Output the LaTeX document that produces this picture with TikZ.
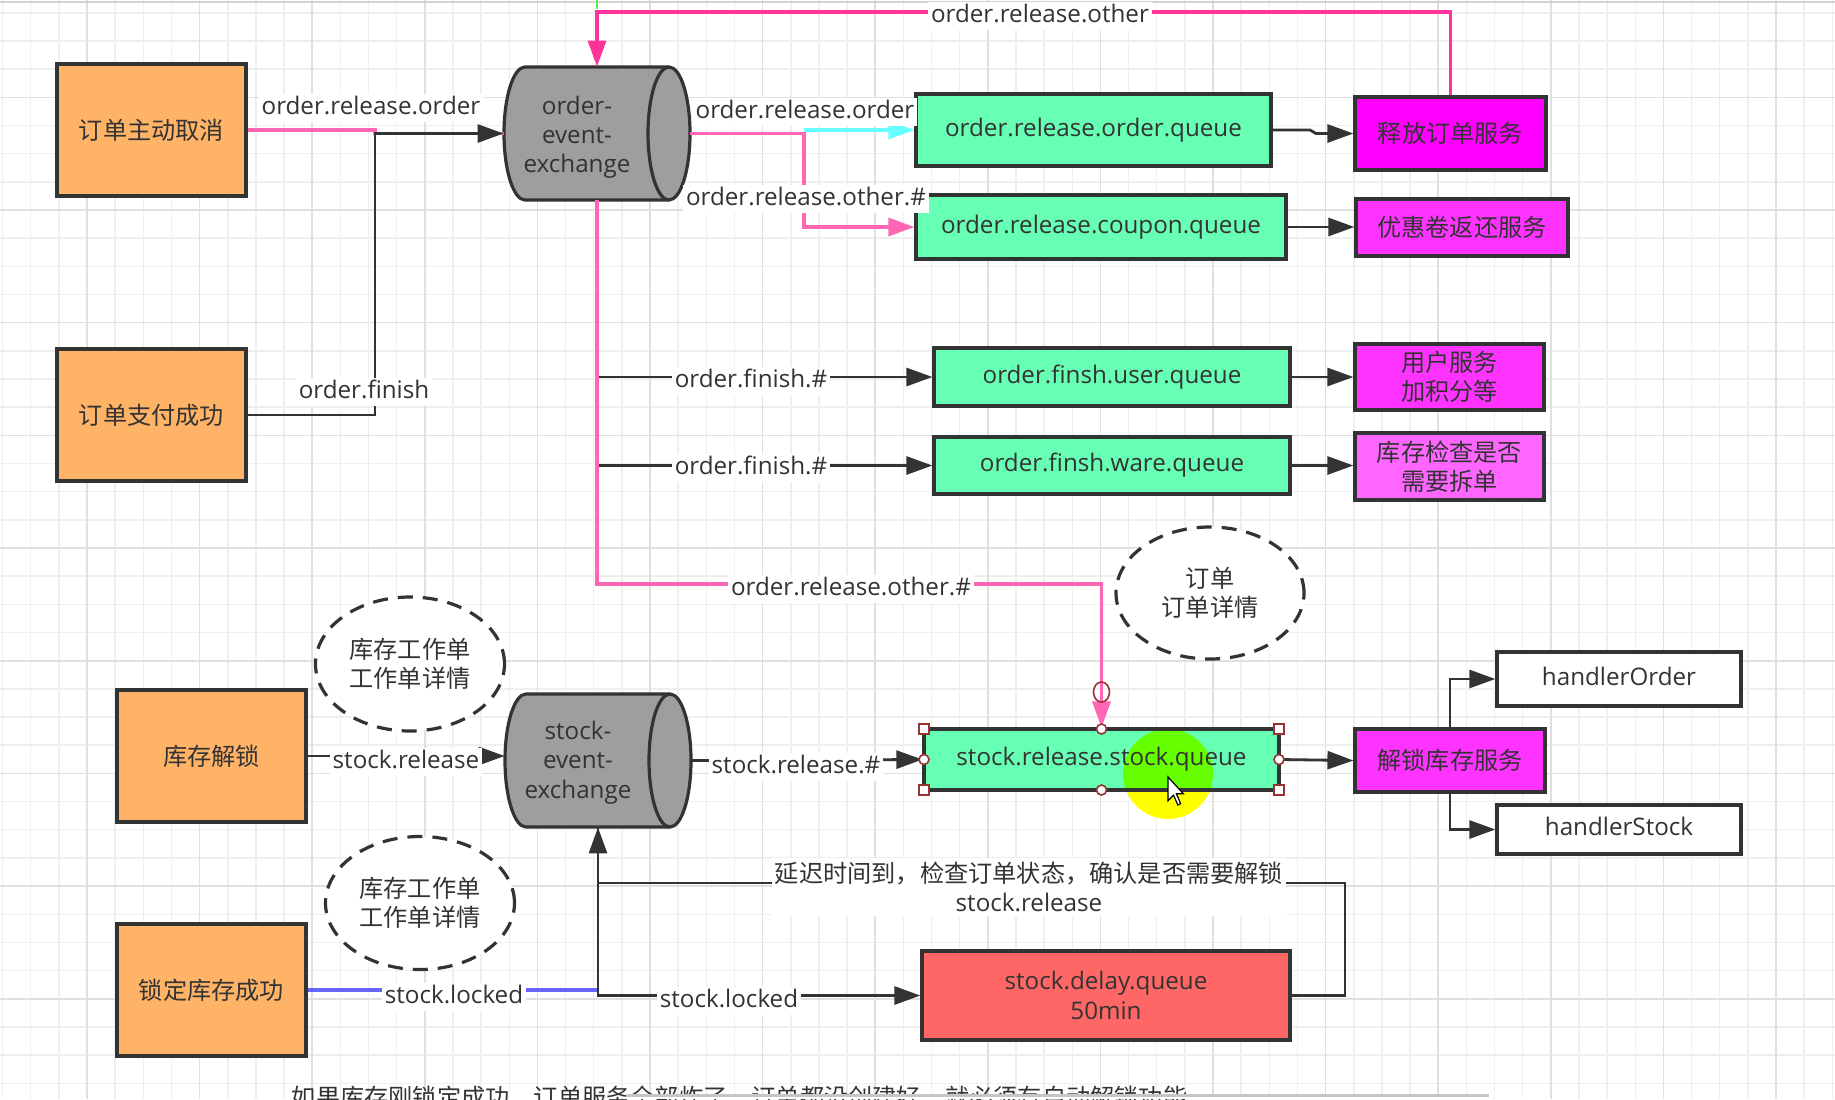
\documentclass[tikz,border=0pt]{standalone}
\usepackage{fontspec}
\setmainfont{Open Sans}
\newfontfamily\cjk{Noto Sans CJK SC}
\usetikzlibrary{arrows.meta,shapes.geometric}
\definecolor{txt}{HTML}{333333}
\definecolor{edge}{HTML}{333333}
\definecolor{gridminor}{HTML}{EFEFEF}
\definecolor{gridmajor}{HTML}{E0E0E0}
\definecolor{orangebox}{HTML}{FFB366}
\definecolor{mint}{HTML}{66FFB3}
\definecolor{magA}{HTML}{FF00FF}
\definecolor{magB}{HTML}{FF33FF}
\definecolor{magC}{HTML}{FF66FF}
\definecolor{redbox}{HTML}{FF6666}
\definecolor{cylgray}{HTML}{9E9E9E}
\definecolor{pinkA}{HTML}{FF3399}
\definecolor{pinkB}{HTML}{FF66B3}
\definecolor{cyanA}{HTML}{66FFFF}
\definecolor{blueA}{HTML}{6666FF}
\definecolor{handlecol}{HTML}{993333}
\definecolor{hlgreen}{HTML}{66FF00}
\definecolor{hlyellow}{HTML}{FFFF00}
\definecolor{mark}{HTML}{55EE55}
\newcommand\cylshape[5]{%
  \filldraw[fill=cylgray, draw=edge, line width=1.6pt]
    ({#1+#5},#2) -- ({#3-#5},#2)
    arc[start angle=-90, end angle=90, x radius=#5, y radius={(#4-#2)/2}]
    -- ({#1+#5},#4)
    arc[start angle=90, end angle=270, x radius=#5, y radius={(#4-#2)/2}]
    -- cycle;
  \draw[draw=edge, line width=1.6pt] ({#3-#5},#2)
    arc[start angle=-90, end angle=-270, x radius=#5, y radius={(#4-#2)/2}];
}
\begin{document}
\begin{tikzpicture}[x=0.5pt,y=-0.5pt,
  >={Triangle[length=13pt,width=9pt]},
  every node/.style={font=\fontsize{12.1pt}{14.6pt}\selectfont, text=txt},
  cjkt/.style={font=\fontsize{12.1pt}{14.6pt}\cjk},
  sl/.style={text height=9pt, text depth=2.6pt},
  bx/.style={draw=edge, line width=1.6pt, inner sep=0pt, align=center},
  obox/.style={bx, fill=orangebox, cjkt, minimum width=94.5pt, minimum height=66pt},
  qbox/.style={bx, fill=mint, sl},
  ln/.style={draw=edge, line width=1.4pt},
  pk/.style={draw=pinkB, line width=1.7pt},
  lbl/.style={fill=white, inner xsep=1.5pt, inner ysep=1pt, sl},
  dashell/.style={ellipse, draw=edge, line width=1.6pt, dash pattern=on 7.5pt off 5pt, fill=white, inner sep=0pt, align=center, cjkt},
  cylbox/.style={rectangle, inner sep=0pt, minimum width=93pt, minimum height=66.5pt},
]
\useasboundingbox (0,0) rectangle (1835,1099);
\clip (0,0) rectangle (1835,1099);
\fill[white] (0,0) rectangle (1835,1099);
% grid
\foreach \k in {0,...,65} \draw[draw=gridminor, line width=0.75pt] ({2.55+28.15*\k},0) -- ++(0,1099);
\foreach \k in {0,...,38} \draw[draw=gridminor, line width=0.75pt] (0,{12.8+28.17*\k}) -- ++(1835,0);
\foreach \k in {0,...,15} \draw[draw=gridmajor, line width=0.75pt] ({87+112.6*\k},0) -- ++(0,1099);
\foreach \k in {0,...,8} \draw[draw=gridmajor, line width=0.75pt] (0,{97.3+112.7*\k}) -- ++(1835,0);
\draw[draw=gray!35, line width=1pt] (0,2) -- (1835,2);
\draw[draw=mark, line width=1pt] (597,0) -- (597,9);

% highlighted queue background
\fill[mint] (924,729) rectangle (1279,790);
\begin{scope}
  \clip (924,729) rectangle (1279,790);
  \fill[hlgreen] (1168,774) circle[radius=45];
\end{scope}
\begin{scope}
  \clip (900,790) rectangle (1300,830);
  \fill[hlyellow] (1168,774) circle[radius=45];
\end{scope}

% source boxes
\node[obox] (c1) at (151.5,130) {订单主动取消};
\node[obox] (c2) at (151.5,415) {订单支付成功};
\node[obox] (unl) at (211.5,756) {库存解锁};
\node[obox] (lck) at (211.5,990) {锁定库存成功};

% exchanges
\cylshape{504}{67}{690}{200}{21}
\node[cylbox] (oex) at (597,133.5) {};
\node[align=center] (oext) at (577,137) {order-\\event-\\exchange};
\cylshape{505}{694}{691}{827}{21}
\node[cylbox] (sex) at (598,760.5) {};
\node[align=center] (sext) at (578,762.5) {stock-\\event-\\exchange};

% queues
\node[qbox, minimum width=177.5pt, minimum height=36pt] (orq) at (1093.5,130) {order.release.order.queue};
\node[qbox, minimum width=185pt, minimum height=32pt] (ocq) at (1101,227) {order.release.coupon.queue};
\node[qbox, minimum width=178pt, minimum height=29pt] (ouq) at (1112,377) {order.finsh.user.queue};
\node[qbox, minimum width=178pt, minimum height=28.5pt] (owq) at (1112,465.5) {order.finsh.ware.queue};
\node[bx, sl, minimum width=177.5pt, minimum height=30.5pt] (srq) at (1101.5,759.5) {stock.release.stock.queue};
\node[bx, fill=redbox, minimum width=184pt, minimum height=44.5pt] (dly) at (1106,995.5) {stock.delay.queue\\50min};

% services
\node[bx, cjkt, fill=magA, minimum width=95.5pt, minimum height=36.5pt] (rel) at (1450.5,133.5) {释放订单服务};
\node[bx, cjkt, fill=magB, minimum width=106pt, minimum height=28.5pt] (cpn) at (1462,227.5) {优惠卷返还服务};
\node[bx, cjkt, fill=magB, minimum width=94.5pt, minimum height=33pt] (usr) at (1449.5,377) {用户服务\\加积分等};
\node[bx, cjkt, fill=magC, minimum width=94.5pt, minimum height=33.5pt] (chk) at (1449.5,466.5) {库存检查是否\\需要拆单};
\node[bx, cjkt, fill=magB, minimum width=95pt, minimum height=31.5pt] (uls) at (1450,760.5) {解锁库存服务};
\node[bx, sl, fill=white, minimum width=122pt, minimum height=27pt] (hor) at (1619,679) {handlerOrder};
\node[bx, sl, fill=white, minimum width=122pt, minimum height=24.5pt] (hst) at (1619,829.5) {handlerStock};

% dashed notes
\node[dashell, minimum width=94pt, minimum height=66pt] (e0) at (1210,593) {订单\\订单详情};
\node[dashell, minimum width=94.5pt, minimum height=67pt] (e1) at (410,664) {库存工作单\\工作单详情};
\node[dashell, minimum width=94.5pt, minimum height=66.5pt] (e2) at (420,903) {库存工作单\\工作单详情};

% connectors
\coordinate (jA) at (804,130);
\coordinate (jB) at (598,990);
\draw[pk] (c1.east) -- (375,130) -- (375,133.5) -- (oex.west);
\draw[ln,->] (c2.east) -- (375,415) -- (375,133.5) -- (oex.west);
\draw[draw=pinkA, line width=1.6pt, ->] (rel.north) -- (1450.5,12) -- (597,12) -- (oex.north);
\draw[ln,->] (oex.south) |- (ouq.west);
\draw[ln,->] (oex.south) |- (owq.west);
\draw[pk,->] (oex.south) -- (597,584) -| (srq.north);
\draw[pk,->] (oex.east) -- (804,133.5) |- (ocq.west);
\draw[draw=cyanA, line width=1.7pt, ->] (jA) -- (orq.west);
\draw[ln,->] (orq.east) -- (1310,130) -- (1316,133.5) -- (rel.west);
\draw[ln,->] (ocq.east) -- (ocq.east -| cpn.west);
\draw[ln,->] (ouq.east) -- (usr.west);
\draw[ln,->] (owq.east) -- (owq.east -| chk.west);
\draw[ln,->] (unl.east) -- (unl.east -| sex.west);
\draw[ln,->] (sex.east) -- (srq.west);
\draw[ln,->] (srq.east) -- (uls.west);
\draw[ln,->] (uls.north) |- (hor.west);
\draw[ln,->] (uls.south) |- (hst.west);
\draw[draw=blueA, line width=1.7pt] (lck.east) -- (jB);
\draw[ln,->] (sex.south) |- (dly.west);
\draw[ln,->] (dly.east) -| (1345,883) -| (sex.south);

% connector labels
\node[lbl] (l1) at (371,108) {order.release.order};
\node[lbl] (l2) at (364,392) {order.finish};
\node[lbl] (l3) at (1040,16) {order.release.other};
\node[lbl] (l4) at (805,112) {order.release.order};
\node[lbl] (l5) at (806,199) {order.release.other.\#};
\node[lbl] (l6) at (751,381) {order.finish.\#};
\node[lbl] (l7) at (751,468) {order.finish.\#};
\node[lbl] (l8) at (851,589) {order.release.other.\#};
\node[lbl] (l9) at (406,762) {stock.release};
\node[lbl] (l10) at (796,767) {stock.release.\#};
\node[lbl] (l11) at (454,997) {stock.locked};
\node[lbl] (l12) at (729,1001) {stock.locked};
\node[fill=white, inner xsep=1.5pt, inner ysep=2pt, align=center] (l13) at (1029,887) {{\cjk 延迟时间到，检查订单状态，确认是否需要解锁}\\stock.release};

% selection handles
\foreach \hx/\hy in {924/729, 1279/729, 924/790, 1279/790}
  \filldraw[fill=white, draw=handlecol, line width=0.8pt] (\hx-5,\hy-5) rectangle (\hx+5,\hy+5);
\foreach \hx/\hy in {1101.5/729, 924/759.5, 1279/759.5, 1101.5/790}
  \filldraw[fill=white, draw=handlecol, line width=0.8pt] (\hx,\hy) circle[radius=5];
\draw[draw=handlecol, line width=0.8pt] (1101.5,692) circle[x radius=8, y radius=10];

% cursor
\filldraw[fill=white, draw=black, line width=0.6pt] (1168,777) -- (1168,800.8) -- (1173.6,795.2) -- (1177.8,805) -- (1180.6,803.6) -- (1176.4,793.8) -- (1183.4,793.8) -- cycle;

% clipped note at the bottom
\node[cjkt] (note) at (739.5,1097) {如果库存刚锁定成功，订单服务全部炸了，订单都没创建好，就必须有自动解锁功能};
\fill[white] (626,1094) rectangle (1489,1099);
\draw[draw=gray!45, line width=1.5pt] (626,1095) -- (1489,1095);
\end{tikzpicture}
\end{document}
